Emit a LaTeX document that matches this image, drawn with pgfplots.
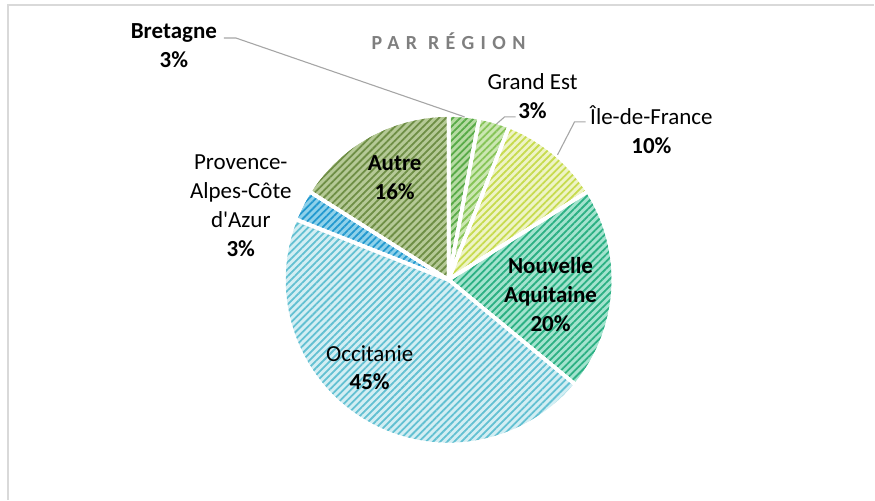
\documentclass[border=0pt]{standalone}
\usepackage{pgfplots}
\pgfplotsset{compat=1.18}
\usepackage{fontspec}
\setmainfont{Carlito}
\usetikzlibrary{patterns.meta}

\definecolor{bretBg}{HTML}{B5DBA2}\definecolor{bretFg}{HTML}{58AA47}
\definecolor{geBg}{HTML}{CBE7B2}\definecolor{geFg}{HTML}{86C457}
\definecolor{idfBg}{HTML}{EEF4C6}\definecolor{idfFg}{HTML}{C7DB4E}
\definecolor{naBg}{HTML}{A3E3CE}\definecolor{naFg}{HTML}{2BB083}
\definecolor{occBg}{HTML}{D3EEF3}\definecolor{occFg}{HTML}{62C0D2}
\definecolor{pacaBg}{HTML}{8FD1EA}\definecolor{pacaFg}{HTML}{2399CF}
\definecolor{autBg}{HTML}{B5C996}\definecolor{autFg}{HTML}{6E8E45}
\definecolor{leader}{HTML}{A6A6A6}
\definecolor{titlegray}{HTML}{7F7F7F}
\definecolor{frame}{HTML}{D9D9D9}

% pie geometry (pixels): centre and radius
\def\cx{449}\def\cy{280}\def\rad{165}
\gdef\cum{90}
% #1 = percentage, #2 = background colour, #3 = hatch colour
\newcommand\slice[3]{%
  \pgfmathsetmacro\angA{\cum}%
  \pgfmathsetmacro\angB{\cum-3.6*#1}%
  \xdef\cum{\angB}%
  \edef\doslice{\noexpand\addplot[draw=white, line width=3.5pt,
      preaction={fill=#2},
      preaction={pattern={Lines[angle=45,distance=5pt,line width=1.8pt]}, pattern color=#3},
      domain=\angB:\angA, samples=90, variable=\noexpand\t]
      ({\cx+\rad*cos(\noexpand\t)},{\cy-\rad*sin(\noexpand\t)}) -- (axis cs:\cx,\cy) -- cycle;}%
  \doslice
}

\begin{document}
\begin{tikzpicture}
\begin{axis}[
  width=875pt, height=500pt, scale only axis,
  xmin=0, xmax=875, ymin=0, ymax=500, y dir=reverse,
  hide axis, clip=false,
]
\path (axis cs:0,0) rectangle (axis cs:875,500);
\draw[frame, line width=1.5pt] (axis cs:8,500) -- (axis cs:8,5) -- (axis cs:875,5);

% slices clockwise from the top: Bretagne, Grand Est, Ile-de-France,
% Nouvelle Aquitaine, Occitanie, PACA, Autre
\slice{3}{bretBg}{bretFg}
\slice{3}{geBg}{geFg}
\slice{10}{idfBg}{idfFg}
\slice{20}{naBg}{naFg}
\slice{45}{occBg}{occFg}
\slice{3}{pacaBg}{pacaFg}
\slice{16}{autBg}{autFg}

% leader lines
\draw[leader, line width=1.1pt] (axis cs:224,38) -- (axis cs:236,38) -- (axis cs:465,117);
\draw[leader, line width=1.1pt] (axis cs:516,117) -- (axis cs:505,117) -- (axis cs:497,124);
\draw[leader, line width=1.1pt] (axis cs:586,122) -- (axis cs:575,122) -- (axis cs:558,155);

% title
\node[text=titlegray, font=\fontsize{20}{24}\selectfont\bfseries\addfontfeatures{LetterSpace=32}] at (axis cs:449,41) {PAR RÉGION};

% labels
\begin{scope}[every node/.style={align=center, font=\fontsize{23}{29}\selectfont}]
\node at (axis cs:174,46) {\textbf{Bretagne}\\\textbf{3\%}};
\node at (axis cs:533,96) {Grand Est\\\textbf{3\%}};
\node at (axis cs:652,130) {Île-de-France\\\textbf{10\%}};
\node at (axis cs:551,295) {\textbf{Nouvelle}\\\textbf{Aquitaine}\\\textbf{20\%}};
\node at (axis cs:370,368) {Occitanie\\\textbf{45\%}};
\node at (axis cs:395,178) {\textbf{Autre}\\\textbf{16\%}};
\node at (axis cs:241,206) {Provence-\\Alpes-Côte\\d\textquotesingle Azur\\\textbf{3\%}};
\end{scope}
\end{axis}
\end{tikzpicture}
\end{document}
